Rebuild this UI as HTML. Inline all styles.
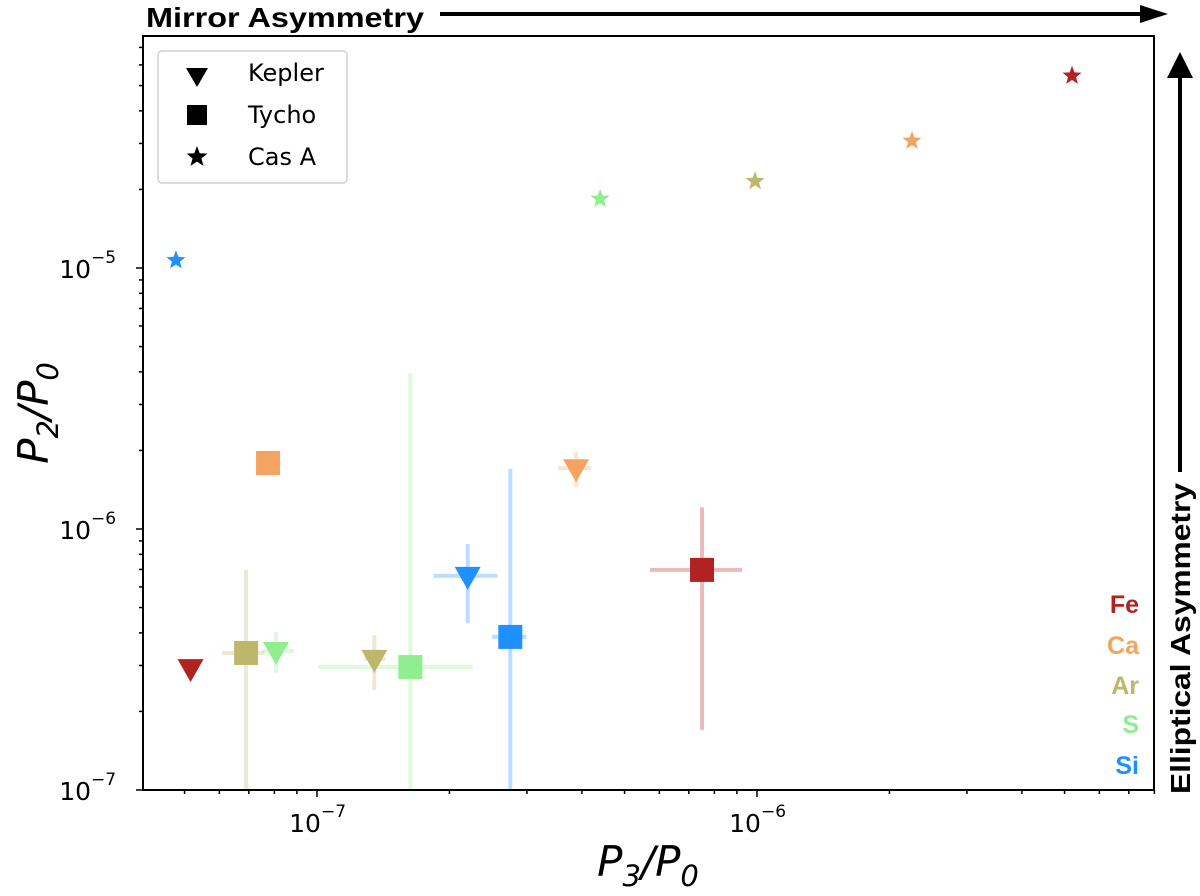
<!DOCTYPE html>
<html><head><meta charset="utf-8"><style>
html,body{margin:0;padding:0;background:#fff;}
svg{display:block;font-family:"DejaVu Sans","Liberation Sans",sans-serif;}
</style></head><body>
<svg id="chart" width="1200" height="896" viewBox="0 0 1200 896" xmlns="http://www.w3.org/2000/svg">
<g id="errs"></g>
<g id="marks"></g>
<g id="axes"></g>
<rect x="143" y="36" width="1011" height="754" fill="none" stroke="#000" stroke-width="2"/>
<text x="146" y="27" font-family="Liberation Sans, sans-serif" font-weight="bold" font-size="28" textLength="278" lengthAdjust="spacingAndGlyphs">Mirror Asymmetry</text>
<line x1="440" y1="14" x2="1145" y2="14" stroke="#000" stroke-width="4"/>
<polygon points="1140,5 1168,14 1140,23" fill="#000"/>
<text transform="translate(1190,794) rotate(-90)" font-family="Liberation Sans, sans-serif" font-weight="bold" font-size="28" textLength="311" lengthAdjust="spacingAndGlyphs">Elliptical Asymmetry</text>
<line x1="1180" y1="472" x2="1180" y2="75" stroke="#000" stroke-width="4"/>
<polygon points="1167,78 1180,52 1193,78" fill="#000"/>
<g>
<rect x="158" y="51" width="189" height="132" rx="4" fill="#fff" stroke="#d0d0d0" stroke-width="1.5"/>
<polygon points="186,68 208,68 197,87" fill="#000"/>
<text x="248" y="74" font-size="24" dominant-baseline="middle">Kepler</text>
<rect x="187" y="105" width="20" height="20" fill="#000"/>
<text x="248" y="116" font-size="24" dominant-baseline="middle">Tycho</text>
<polygon id="legstar" fill="#000"/>
<text x="248" y="158" font-size="24" dominant-baseline="middle">Cas A</text>
</g>
<g font-family="Liberation Sans, sans-serif" font-weight="bold" font-size="25" text-anchor="end">
<text x="1139" y="613" fill="#b22222">Fe</text>
<text x="1139" y="654" fill="#f4a460">Ca</text>
<text x="1139" y="694" fill="#bdb76b">Ar</text>
<text x="1139" y="733" fill="#90ee90">S</text>
<text x="1139" y="774" fill="#1e90ff">Si</text>
</g>
<text x="648" y="876" font-size="42" font-style="italic" text-anchor="middle">P<tspan font-size="29" dy="10">3</tspan><tspan dy="-10">/P</tspan><tspan font-size="29" dy="10">0</tspan></text>
<text transform="translate(48,413) rotate(-90)" font-size="42" font-style="italic" text-anchor="middle">P<tspan font-size="29" dy="10">2</tspan><tspan dy="-10">/P</tspan><tspan font-size="29" dy="10">0</tspan></text>
</svg>
<script>
const elements = ["Fe","Ca","Ar","S","Si"];
const colors = ["#b22222","#f4a460","#bdb76b","#90ee90","#1e90ff"];
// Cas A (stars)
const casX = [5.2e-6, 2.25e-6, 9.9e-7, 4.4e-7, 4.78e-8];
const casY = [5.45e-5, 3.07e-5, 2.15e-5, 1.84e-5, 1.07e-5];
// Tycho (squares)
const tyX = [7.5e-7, 7.74e-8, 6.9e-8, 1.63e-7, 2.75e-7];
const tyY = [6.97e-7, 1.79e-6, 3.35e-7, 2.96e-7, 3.86e-7];
const tyXlo = [5.71e-7, 7.5e-8, 6.08e-8, 1.005e-7, 2.5e-7];
const tyXhi = [9.25e-7, 8.28e-8, 7.6e-8, 2.26e-7, 2.99e-7];
const tyYlo = [1.7e-7, 1.69e-6, 1e-8, 1e-8, 1e-8];
const tyYhi = [1.21e-6, 1.88e-6, 6.97e-7, 3.96e-6, 1.7e-6];
// Kepler (triangles)
const kpX = [5.16e-8, 3.88e-7, 1.35e-7, 8.07e-8, 2.2e-7];
const kpY = [2.93e-7, 1.71e-6, 3.18e-7, 3.41e-7, 6.61e-7];
const kpXlo = [null, 3.53e-7, 1.28e-7, 7.5e-8, 1.84e-7];
const kpXhi = [null, 4.2e-7, 1.43e-7, 8.87e-8, 2.57e-7];
const kpYlo = [null, 1.45e-6, 2.42e-7, 2.81e-7, 4.36e-7];
const kpYhi = [null, 1.97e-6, 3.92e-7, 4.03e-7, 8.76e-7];
const xTicks = [1e-7, 1e-6];
const xTickLabels = ["-7", "-6"];
const yTicks = [1e-7, 1e-6, 1e-5];
const yTickLabels = ["-7", "-6", "-5"];

const L=143,R=1154,T=36,B=790;
const X = v => 317 + 440*(Math.log10(v)+7);
const Y = v => 790 - 261*(Math.log10(v)+7);
const cy = v => Math.max(T, Math.min(B, Y(v)));
const NS="http://www.w3.org/2000/svg";
function mk(tag, attrs, parent){const e=document.createElementNS(NS,tag);for(const k in attrs)e.setAttribute(k,attrs[k]);parent.appendChild(e);return e;}
const errs=document.getElementById('errs'), marks=document.getElementById('marks'), axes=document.getElementById('axes');

function starPts(cx,cy,r){let p=[];for(let i=0;i<10;i++){const a=-Math.PI/2+i*Math.PI/5;const rr=i%2?r*0.42:r;p.push((cx+rr*Math.cos(a)).toFixed(1)+","+(cy+rr*Math.sin(a)).toFixed(1));}return p.join(" ");}
document.getElementById('legstar').setAttribute('points', starPts(197,157,11));

function errbar(x,y,xl,xh,yl,yh,c,name){
  if(xl!=null){const l=mk('line',{x1:X(xl),x2:X(xh),y1:Y(y),y2:Y(y),stroke:c,'stroke-width':4,'stroke-opacity':0.3},errs);
    
    }
  if(yl!=null){const l=mk('line',{x1:X(x),x2:X(x),y1:cy(yl),y2:cy(yh),stroke:c,'stroke-width':4,'stroke-opacity':0.3},errs);
    
    }
}
for(let i=0;i<5;i++){
  errbar(tyX[i],tyY[i],tyXlo[i],tyXhi[i],tyYlo[i],tyYhi[i],colors[i],'tycho-'+elements[i]);
  errbar(kpX[i],kpY[i],kpXlo[i],kpXhi[i],kpYlo[i],kpYhi[i],colors[i],'kepler-'+elements[i]);
}
for(let i=0;i<5;i++){
  const s=mk('rect',{x:X(tyX[i])-12,y:Y(tyY[i])-12,width:24,height:24,fill:colors[i]},marks);
  
  
  const x=X(kpX[i]), y=Y(kpY[i]);
  const t=mk('polygon',{points:`${x-13},${y-9} ${x+13},${y-9} ${x},${y+14}`,fill:colors[i]},marks);
  
  
  const st=mk('polygon',{points:starPts(X(casX[i]),Y(casY[i]),10),fill:colors[i]},marks);
  
  
}
// ticks
for(let d=-8; d<=-5; d++){
  for(let m=1;m<10;m++){
    const v=m*Math.pow(10,d), x=X(v);
    if(x<L-0.5||x>R+0.5) continue;
    const len=m===1?7:4;
    const tk=mk('line',{x1:x,x2:x,y1:B,y2:B+len,stroke:'#000','stroke-width':1.5},axes);
    
    
  }
}
for(let d=-7; d<=-4; d++){
  for(let m=1;m<10;m++){
    const v=m*Math.pow(10,d), y=Y(v);
    if(y<T-0.5||y>B+0.5) continue;
    const len=m===1?7:4;
    const tk=mk('line',{x1:L-len,x2:L,y1:y,y2:y,stroke:'#000','stroke-width':1.5},axes);
    
    
  }
}
xTicks.forEach((v,i)=>{
  const t=mk('text',{x:X(v)-12,y:B+42,'font-size':25,'text-anchor':'middle'},axes);
  
  
  t.textContent='10';
  const s=mk('text',{x:X(v)+4,y:B+27,'font-size':17,'text-anchor':'start'},axes);
  
  
  s.textContent='\u2212'+xTickLabels[i].slice(1);
});
yTicks.forEach((v,i)=>{
  const t=mk('text',{x:L-52,y:Y(v)+10,'font-size':25,'text-anchor':'end'},axes);
  
  
  t.textContent='10';
  const s=mk('text',{x:L-52,y:Y(v)-5,'font-size':17,'text-anchor':'start'},axes);
  
  
  s.textContent='\u2212'+yTickLabels[i].slice(1);
});
</script>
</body></html>
